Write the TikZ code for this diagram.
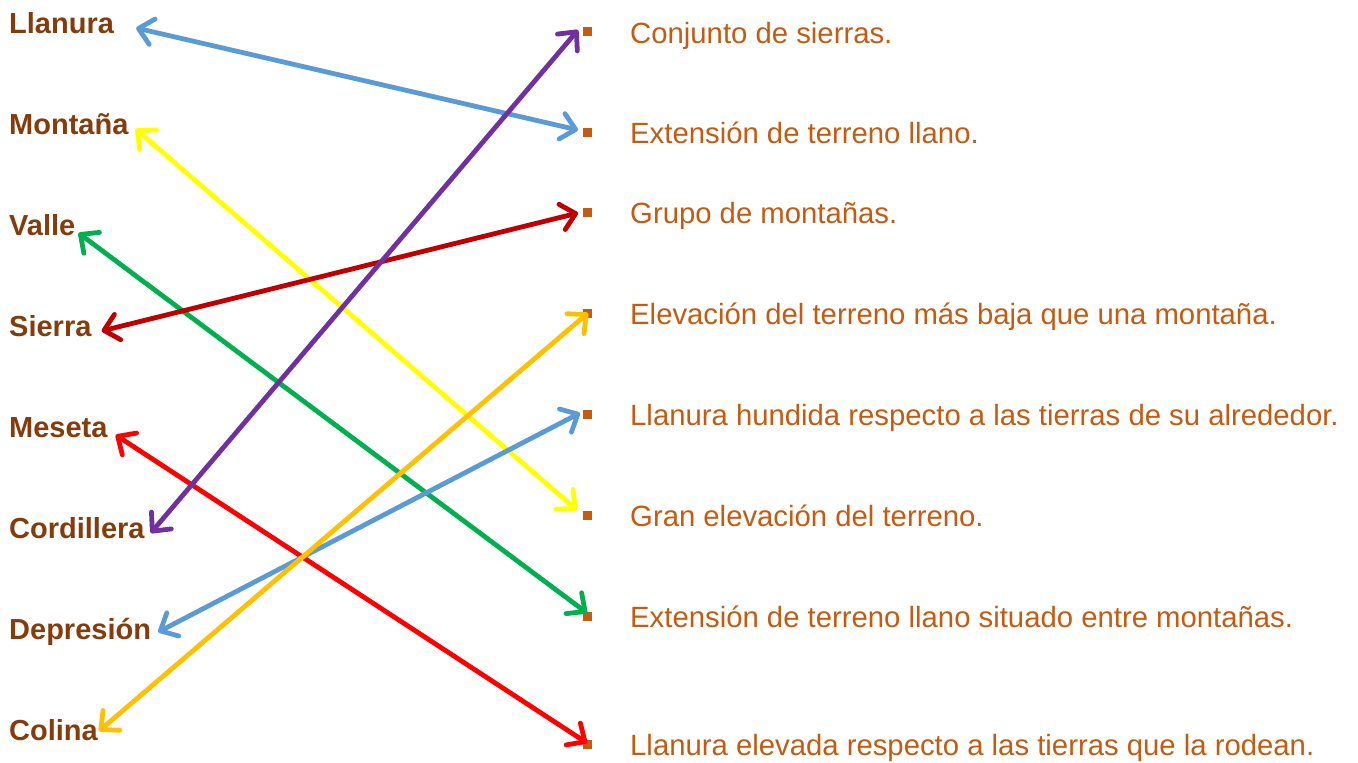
\documentclass[tikz,border=0pt]{standalone}
\usepackage{fontspec}
\setmainfont{Liberation Sans}
\usetikzlibrary{arrows.meta, positioning}
\definecolor{termbrown}{HTML}{843C0C}
\definecolor{defcolor}{HTML}{C55A11}
\definecolor{linkblue}{HTML}{5B9BD5}
\definecolor{linkyellow}{HTML}{FFFF00}
\definecolor{linkgreen}{HTML}{00B050}
\definecolor{linkdarkred}{HTML}{C00000}
\definecolor{linkred}{HTML}{FF0000}
\definecolor{linkpurple}{HTML}{7030A0}
\definecolor{linkgold}{HTML}{FFC000}

\begin{document}
\begin{tikzpicture}[
            x=1pt, y=-1pt,
            >={Straight Barb[length=14pt, width=26pt, line cap=round, line join=round]},
            term/.style={anchor=base west, inner sep=0pt, text=termbrown,
                font=\fontsize{29}{34}\selectfont\bfseries},
            bulletbox/.style={fill=defcolor, minimum size=9pt, inner sep=0pt},
            defn/.style={anchor=base west, inner sep=0pt, text=defcolor,
                font=\fontsize{29.3}{34}\selectfont},
            link/.style={<->, line width=4.8pt, line cap=round}
        ]
        \useasboundingbox (0, 0) rectangle (1358, 763);

        % terms on the left
        \node[term] (lla) at (9, 33) {Llanura};
        \node[term] (mon) at (9, 134) {Montaña};
        \node[term] (val) at (9, 235) {Valle};
        \node[term] (sie) at (9, 336) {Sierra};
        \node[term] (mes) at (9, 437) {Meseta};
        \node[term] (cor) at (9, 538) {Cordillera};
        \node[term] (dep) at (9, 639) {Depresión};
        \node[term] (col) at (9, 740) {Colina};

        % definitions on the right
        \node[bulletbox] (b1) at (587, 31) {};
        \node[defn] (d1) at (630, 43) {Conjunto de sierras.};
        \node[bulletbox] (b2) at (587, 132) {};
        \node[defn] (d2) at (630, 143) {Extensión de terreno llano.};
        \node[bulletbox] (b3) at (587, 212) {};
        \node[defn] (d3) at (630, 223) {Grupo de montañas.};
        \node[bulletbox] (b4) at (587, 313) {};
        \node[defn] (d4) at (630, 324) {Elevación del terreno más baja que una montaña.};
        \node[bulletbox] (b5) at (587, 414) {};
        \node[defn] (d5) at (630, 425) {Llanura hundida respecto a las tierras de su alrededor.};
        \node[bulletbox] (b6) at (587, 515) {};
        \node[defn] (d6) at (630, 526) {Gran elevación del terreno.};
        \node[bulletbox] (b7) at (587, 616) {};
        \node[defn] (d7) at (630, 627) {Extensión de terreno llano situado entre montañas.};
        \node[bulletbox] (b8) at (587, 744) {};
        \node[defn] (d8) at (630, 755) {Llanura elevada respecto a las tierras que la rodean.};

        % matching arrows
        \draw[link, linkblue] ([xshift=22pt, yshift=5pt]lla.base east) -- ([xshift=-9pt, yshift=2pt]b2.center);
        \draw[link, linkyellow] ([xshift=7pt, yshift=5pt]mon.base east) -- ([xshift=-10pt, yshift=5pt]b6.center);
        \draw[link, linkgreen] ([xshift=3pt, yshift=2pt]val.base east) -- ([yshift=3pt]b7.center);
        \draw[link, linkdarkred] ([xshift=10pt, yshift=5pt]sie.base east) -- ([xshift=-9pt, yshift=-1pt]b3.center);
        \draw[link, linkred] ([xshift=8pt, yshift=2pt]mes.base east) -- ([yshift=1pt]b8.center);
        \draw[link, linkpurple] ([xshift=6pt, yshift=5pt]cor.base east) -- ([xshift=-9pt, yshift=1pt]b1.center);
        \draw[link, linkblue] ([xshift=7pt, yshift=7pt]dep.base east) -- ([xshift=-7pt, yshift=1pt]b5.center);
        \draw[link, linkgold] ([xshift=1pt, yshift=9pt]col.base east) -- ([xshift=1pt]b4.center);
    \end{tikzpicture}
\end{document}
